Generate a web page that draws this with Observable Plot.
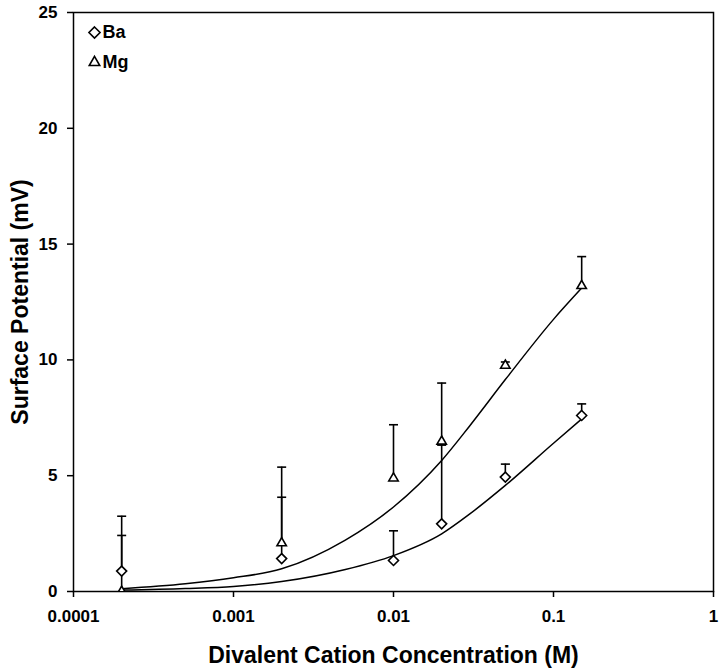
<!DOCTYPE html>
<html>
<head>
<meta charset="utf-8">
<script src="https://cdn.jsdelivr.net/npm/d3@7"></script>
<script src="https://cdn.jsdelivr.net/npm/@observablehq/plot@0.6"></script>
<style>
  html, body { margin: 0; padding: 0; background: #fff; }
  #chart svg { display: block; }
</style>
</head>
<body>
<div id="chart"></div>
<script>
// ---- data ----
const concentrations = [0.0002, 0.002, 0.01, 0.02, 0.05, 0.15];
const baMean = [0.88, 1.42, 1.34, 2.92, 4.94, 7.6];
const baErr  = [2.37, 2.65, 1.28, 3.40, 0.56, 0.5];
const mgMean = [0.0, 2.09, 4.89, 6.48, 9.76, 13.2];
const mgErr  = [2.42, 3.28, 2.31, 2.52, 0.15, 1.26];

const fitConc = [0.0002, 0.0005, 0.001, 0.002, 0.005, 0.01, 0.02, 0.03, 0.05, 0.1, 0.15];
const baFit   = [0.06, 0.13, 0.22, 0.43, 0.95, 1.55, 2.49, 3.35, 4.58, 6.4, 7.45];
const mgFit   = [0.12, 0.33, 0.59, 0.98, 2.22, 3.65, 5.66, 7.16, 9.15, 11.75, 13.1];

const xTicks = [0.0001, 0.001, 0.01, 0.1, 1];
const xTickLabels = ["0.0001", "0.001", "0.01", "0.1", "1"];
const yTicks = [0, 5, 10, 15, 20, 25];

const seriesNames = ["Ba", "Mg"];
const legendLabels = ["Ba", "Mg"];
const xTitle = "Divalent Cation Concentration (M)";
const yTitle = "Surface Potential (mV)";

// ---- tables ----
const points = [];
concentrations.forEach((c, i) => {
  points.push({series: "Ba", c, v: baMean[i], top: baMean[i] + baErr[i]});
  points.push({series: "Mg", c, v: mgMean[i], top: mgMean[i] + mgErr[i]});
});
const fits = [];
fitConc.forEach((c, i) => {
  fits.push({series: "Ba", c, v: baFit[i]});
  fits.push({series: "Mg", c, v: mgFit[i]});
});
const legend = legendLabels.map((name, i) => ({name, i}));

const capSymbol = {
  draw(context, size) {
    const w = Math.sqrt(size / Math.PI);
    context.moveTo(-w, 0);
    context.lineTo(w, 0);
  }
};

const font = "Liberation Sans, Arial, Helvetica, sans-serif";

const legendMarks = legend.map((d, i) => [
  Plot.dot([d], {frameAnchor: "top-left", dx: 21, dy: 20 + 30 * i, symbol: "name", r: 5, stroke: "#000", strokeWidth: 1.6, fill: "#fff"}),
  Plot.text([d], {frameAnchor: "top-left", dx: 29, dy: 20 + 30 * i, text: "name", textAnchor: "start", lineAnchor: "middle", fontSize: 18, fontWeight: "bold"})
]).flat();

const chart = Plot.plot({
  width: 720,
  height: 671,
  marginLeft: 73,
  marginRight: 7,
  marginTop: 12,
  marginBottom: 80,
  style: {fontFamily: font, fontWeight: "bold", background: "#fff", color: "#000"},
  x: {type: "log", domain: [0.0001, 1]},
  y: {domain: [0, 25]},
  symbol: {domain: seriesNames, range: ["diamond2", "triangle2"]},
  marks: [
    Plot.frame({stroke: "#000", strokeWidth: 1.5}),
    Plot.axisX({
      ticks: xTicks,
      tickFormat: d => xTickLabels[xTicks.indexOf(d)],
      tickSize: 6, tickPadding: 12, fontSize: 17, fontWeight: "bold",
      strokeWidth: 1.5, label: null
    }),
    Plot.axisY({
      ticks: yTicks, tickSize: 6, tickPadding: 10, fontSize: 17, fontWeight: "bold",
      strokeWidth: 1.5, label: null
    }),
    Plot.text([xTitle], {
      text: d => d, frameAnchor: "bottom", dy: 64, textAnchor: "middle",
      fontSize: 23, fontWeight: "bold", lineAnchor: "middle"
    }),
    Plot.text([yTitle], {
      text: d => d, frameAnchor: "left", dx: -53, rotate: -90, textAnchor: "middle",
      fontSize: 23, fontWeight: "bold", lineAnchor: "middle"
    }),
    // error bars
    Plot.ruleX(points, {x: "c", y1: "v", y2: "top", stroke: "#000", strokeWidth: 1.6}),
    Plot.dot(points, {x: "c", y: "top", symbol: () => capSymbol, r: 4.5, stroke: "#000", strokeWidth: 1.6, fill: "none"}),
    // fitted curves
    Plot.line(fits, {x: "c", y: "v", z: "series", curve: "monotone-x", stroke: "#000", strokeWidth: 1.5}),
    // data symbols
    Plot.dot(points, {x: "c", y: "v", symbol: "series", r: 4.5, stroke: "#000", strokeWidth: 1.6, fill: "#fff", clip: true}),
    ...legendMarks
  ]
});
document.getElementById("chart").appendChild(chart);
</script>
</body>
</html>
